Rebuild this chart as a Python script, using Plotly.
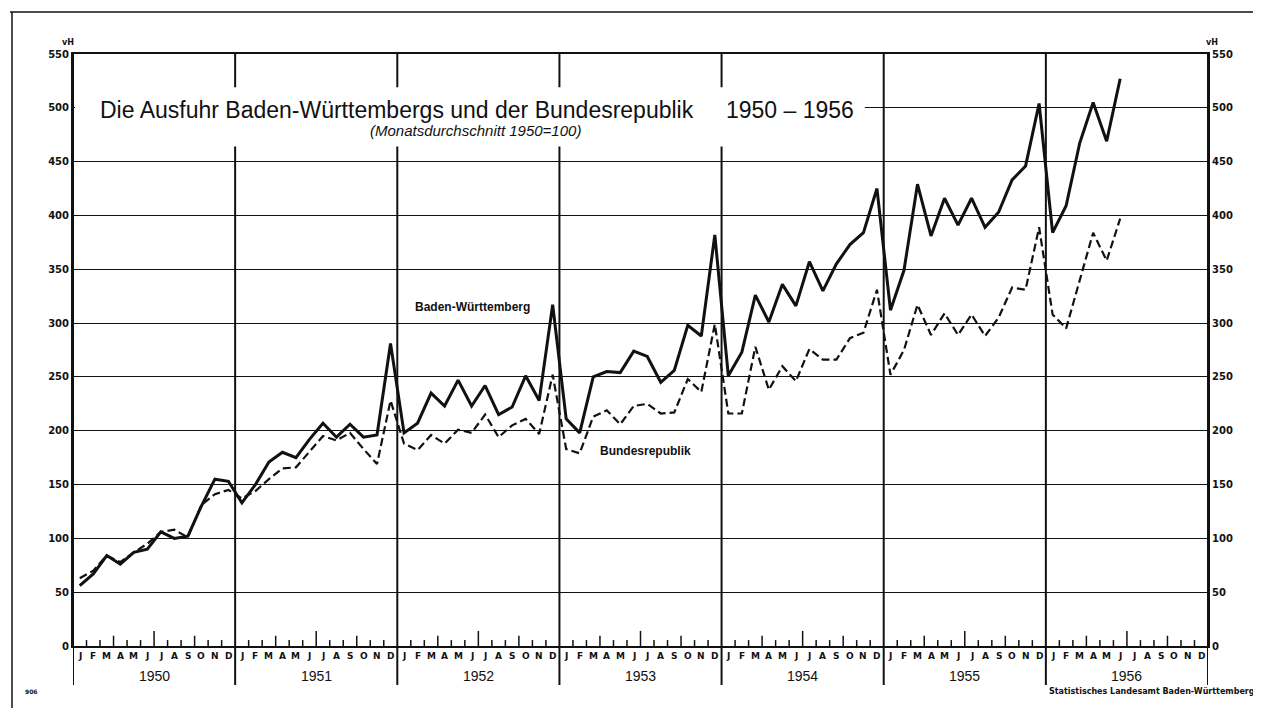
import plotly.graph_objects as go

# ---------------- data ----------------
month_labels = ["J", "F", "M", "A", "M", "J", "J", "A", "S", "O", "N", "D"]
years = [1950, 1951, 1952, 1953, 1954, 1955, 1956]

# Baden-Württemberg (Monatsdurchschnitt 1950 = 100), Jan 1950 - Jun 1956
bw_1950 = [56, 67, 84, 76, 87, 90, 106, 100, 102, 130, 155, 153]
bw_1951 = [133, 150, 171, 180, 175, 192, 207, 194, 206, 194, 196, 281]
bw_1952 = [198, 207, 235, 223, 247, 223, 242, 215, 222, 251, 228, 317]
bw_1953 = [211, 198, 250, 255, 254, 274, 269, 245, 256, 298, 288, 382]
bw_1954 = [251, 273, 326, 301, 336, 316, 357, 330, 355, 373, 384, 425]
bw_1955 = [312, 349, 429, 381, 416, 391, 416, 389, 403, 433, 446, 504]
bw_1956 = [384, 409, 467, 505, 469, 527]

# Bundesrepublik
br_1950 = [63, 70, 84, 78, 87, 95, 106, 108, 101, 131, 141, 145]
br_1951 = [137, 144, 155, 165, 166, 180, 195, 191, 198, 183, 169, 228]
br_1952 = [188, 182, 196, 188, 201, 198, 215, 194, 205, 211, 197, 252]
br_1953 = [183, 179, 213, 219, 206, 223, 225, 216, 217, 248, 236, 299]
br_1954 = [216, 216, 278, 238, 260, 246, 276, 266, 266, 286, 291, 331]
br_1955 = [252, 275, 317, 289, 309, 289, 308, 288, 305, 333, 331, 389]
br_1956 = [308, 295, 340, 384, 358, 397]

y_ticks = [0, 50, 100, 150, 200, 250, 300, 350, 400, 450, 500, 550]

bw = bw_1950 + bw_1951 + bw_1952 + bw_1953 + bw_1954 + bw_1955 + bw_1956
br = br_1950 + br_1951 + br_1952 + br_1953 + br_1954 + br_1955 + br_1956
x_bw = [i + 0.5 for i in range(len(bw))]
x_br = [i + 0.5 for i in range(len(br))]
n_months = 12 * len(years)

# ---------------- layout geometry ----------------
OFF = 8                      # page body margin of the browser
W, H = 1253, 700
ML, MR, MT, MB = 65, 53, 46, 62
PW = W - ML - MR
PH = H - MT - MB


def px_to_paper_y(py):
    return (H - MB - (py - OFF)) / PH


def px_to_paper_x(px):
    return (px - OFF - ML) / PW


INK = "#111111"
FONT = "DejaVu Sans"

fig = go.Figure()

fig.add_trace(go.Scatter(
    x=x_br, y=br, mode="lines", name="Bundesrepublik",
    line=dict(color=INK, width=2.2, dash="8px,4px"),
    yaxis="y2", showlegend=False, hoverinfo="skip"))
fig.add_trace(go.Scatter(
    x=x_bw, y=bw, mode="lines", name="Baden-Württemberg",
    line=dict(color=INK, width=3.0),
    showlegend=False, hoverinfo="skip"))

shapes = []
# year separator lines (extend below axis through labels)
for k in range(len(years) + 1):
    shapes.append(dict(type="line", xref="x", yref="paper",
                       x0=12 * k, x1=12 * k,
                       y0=px_to_paper_y(685), y1=1,
                       line=dict(color=INK, width=2), layer="above"))
# white box behind the title
shapes.append(dict(type="rect", xref="x", yref="y",
                   x0=0.15, x1=58.6, y0=464, y1=519,
                   fillcolor="white", line=dict(width=0), layer="above"))
# month ticks
for m in range(1, n_months):
    if m % 12 == 0:
        continue
    r = m % 12
    if r == 6:
        h = 14
    elif r in (3, 9):
        h = 9.5
    else:
        h = 5.5
    shapes.append(dict(type="line", xref="x", yref="y",
                       x0=m, x1=m, y0=0, y1=h,
                       line=dict(color=INK, width=1.5), layer="above"))
# outer frame of the sheet
shapes.append(dict(type="line", xref="paper", yref="paper",
                   x0=px_to_paper_x(10), x1=px_to_paper_x(1261),
                   y0=px_to_paper_y(12), y1=px_to_paper_y(12),
                   line=dict(color=INK, width=1.5)))
shapes.append(dict(type="line", xref="paper", yref="paper",
                   x0=px_to_paper_x(12), x1=px_to_paper_x(12),
                   y0=px_to_paper_y(12), y1=px_to_paper_y(708),
                   line=dict(color=INK, width=1.5)))

annotations = []
# month labels
for yi in range(len(years)):
    for mi, lab in enumerate(month_labels):
        annotations.append(dict(
            x=12 * yi + mi + 0.5, y=px_to_paper_y(656), xref="x", yref="paper",
            text=lab, showarrow=False, yanchor="middle", xanchor="center",
            font=dict(family=FONT, size=9, color=INK, weight="bold")))
# year labels
for yi, yr in enumerate(years):
    annotations.append(dict(
        x=12 * yi + 6, y=px_to_paper_y(676), xref="x", yref="paper",
        text=str(yr), showarrow=False, yanchor="middle", xanchor="center",
        font=dict(family="Liberation Sans", size=14, color=INK)))
# title and subtitle
annotations.append(dict(
    x=px_to_paper_x(98), y=px_to_paper_y(110), xref="paper", yref="paper",
    text="Die Ausfuhr Baden-Württembergs und der Bundesrepublik",
    showarrow=False, xanchor="left", yanchor="middle",
    font=dict(family="Liberation Sans", size=23, color=INK)))
annotations.append(dict(
    x=px_to_paper_x(856), y=px_to_paper_y(110), xref="paper", yref="paper",
    text="1950 – 1956", showarrow=False, xanchor="right", yanchor="middle",
    font=dict(family="Liberation Sans", size=23, color=INK)))
annotations.append(dict(
    x=px_to_paper_x(476), y=px_to_paper_y(131), xref="paper", yref="paper",
    text="<i>(Monatsdurchschnitt 1950=100)</i>", showarrow=False,
    xanchor="center", yanchor="middle",
    font=dict(family="Liberation Sans", size=15, color=INK)))
# series labels
annotations.append(dict(
    x=29.6, y=315, xref="x", yref="y", text="Baden-Württemberg",
    showarrow=False, xanchor="center", yanchor="middle",
    font=dict(family="Liberation Sans", size=12, color=INK, weight="bold")))
annotations.append(dict(
    x=42.4, y=181, xref="x", yref="y", text="Bundesrepublik",
    showarrow=False, xanchor="center", yanchor="middle",
    font=dict(family="Liberation Sans", size=12, color=INK, weight="bold")))
# unit labels
for px in (68, 1212):
    annotations.append(dict(
        x=px_to_paper_x(px), y=px_to_paper_y(42), xref="paper", yref="paper",
        text="vH", showarrow=False, xanchor="center", yanchor="middle",
        font=dict(family=FONT, size=8, color=INK, weight="bold")))
# footer
annotations.append(dict(
    x=px_to_paper_x(31), y=px_to_paper_y(691), xref="paper", yref="paper",
    text="906", showarrow=False, xanchor="center", yanchor="middle",
    font=dict(family=FONT, size=6, color=INK, weight="bold")))
annotations.append(dict(
    x=px_to_paper_x(1257), y=px_to_paper_y(691), xref="paper", yref="paper",
    text="Statistisches Landesamt Baden-Württemberg", showarrow=False,
    xanchor="right", yanchor="middle",
    font=dict(family=FONT, size=8, color=INK, weight="bold")))

yaxis_common = dict(
    range=[0, 550], tickvals=y_ticks, ticktext=[str(v) for v in y_ticks],
    showgrid=True, gridcolor=INK, gridwidth=1.4, zeroline=False,
    showline=True, linecolor=INK, linewidth=2,
    ticks="", tickfont=dict(family=FONT, size=10, color=INK, weight="bold"),
    fixedrange=True)

fig.update_layout(
    width=W, height=H,
    margin=dict(l=ML, r=MR, t=MT, b=MB, pad=0),
    paper_bgcolor="white", plot_bgcolor="white",
    showlegend=False,
    xaxis=dict(range=[0, n_months], showgrid=False, zeroline=False,
               showticklabels=False, ticks="", showline=True,
               linecolor=INK, linewidth=2, mirror=True),
    yaxis=dict(**yaxis_common, side="left"),
    yaxis2=dict(**yaxis_common, side="right", overlaying="y"),
    shapes=shapes,
    annotations=annotations,
)

fig.write_html("out.html")
